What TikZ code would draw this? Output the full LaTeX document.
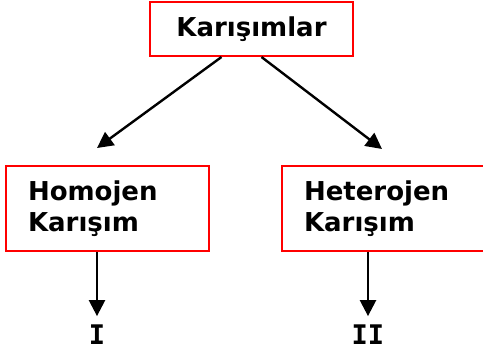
\documentclass[tikz,border=0pt]{standalone}
\usepackage{fontspec}
\setmainfont{DejaVu Sans}
\newfontfamily\numfont{DejaVu Sans Mono}
\usepackage{xcolor}
\usepackage{tikz}
\usetikzlibrary{calc,arrows.meta}
\definecolor{boxred}{HTML}{FF0000}
\definecolor{ink}{HTML}{000000}
\tikzset{
  box/.style={draw=boxred, line width=2pt, minimum width=203pt, minimum height=85pt, inner sep=0pt},
  inbox/.style={box, align=left, text width=159pt},
  arr/.style={draw=ink, line width=2.4pt, -{Triangle[length=16pt,width=16pt]}},
  lab/.style={text=ink, font=\fontsize{26}{31}\selectfont\bfseries},
  num/.style={text=ink, font=\fontsize{27}{31}\selectfont\numfont\bfseries, inner sep=9pt, anchor=base}
}
\begin{document}
\begin{tikzpicture}[x=1pt,y=-1pt]
  \useasboundingbox (0,0) rectangle (483,358);
  \node[box,lab,minimum height=54pt] (top) at (251.5,29) {Kar\i{}şımlar};
  \node[inbox,lab] (homo) at (107.5,208.5) {Homojen\\Karışım};
  \node[inbox,lab] (hetero) at (383.5,208.5) {Heterojen\\Karışım};
  \node[num] (one) at (97,345) {I};
  \node[num] (two) at (368,345) {II};

  \coordinate (lt) at (97,148);
  \coordinate (rt) at (382,149);
  \draw[arr] ($(top.south)+(-30,0)$) -- (lt);
  \draw[arr] ($(top.south)+(10,0)$) -- (rt);
  \draw[arr] (one |- homo.south) -- (one.north);
  \draw[arr] (two |- hetero.south) -- (two.north);
\end{tikzpicture}
\end{document}
